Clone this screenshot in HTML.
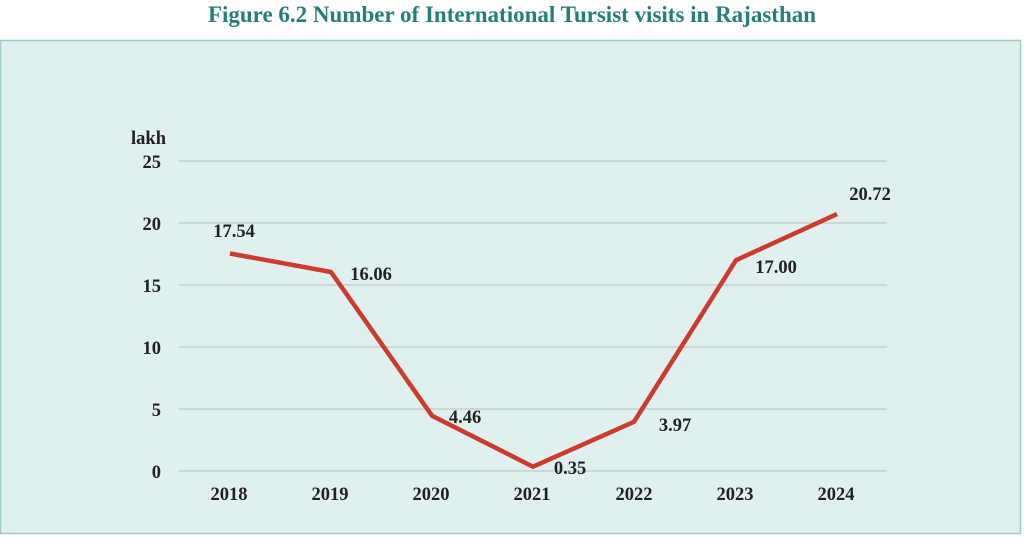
<!DOCTYPE html>
<html><head><style>
body{margin:0;width:1024px;height:537px;background:#fff;overflow:hidden}
</style></head><body>
<svg width="1024" height="537" xmlns="http://www.w3.org/2000/svg" font-family="Liberation Serif, serif" font-weight="bold">
<text x="512" y="22" text-anchor="middle" font-size="23" fill="#237f7a">Figure 6.2 Number of International Tursist visits in Rajasthan</text>
<rect x="0.5" y="40.5" width="1020" height="493" fill="#dff1ef" stroke="#9dcdc6" stroke-width="1.5"/>
<g stroke="#cfd6d6" stroke-width="2">
<line x1="179" x2="887" y1="161" y2="161"/><line x1="179" x2="887" y1="223" y2="223"/>
<line x1="179" x2="887" y1="285" y2="285"/><line x1="179" x2="887" y1="347" y2="347"/>
<line x1="179" x2="887" y1="409" y2="409"/><line x1="179" x2="887" y1="471" y2="471"/>
</g>
<g font-size="18.5" fill="#222" text-anchor="end">
<text x="166" y="144">lakh</text>
<text x="161" y="168">25</text><text x="161" y="230">20</text><text x="161" y="292">15</text>
<text x="161" y="354">10</text><text x="161" y="416">5</text><text x="161" y="478">0</text>
</g>
<g font-size="18.5" fill="#222" text-anchor="middle">
<text x="229" y="500">2018</text><text x="330" y="500">2019</text><text x="431" y="500">2020</text>
<text x="532" y="500">2021</text><text x="634" y="500">2022</text><text x="735" y="500">2023</text><text x="836" y="500">2024</text>
</g>
<polyline fill="none" stroke="#d0392b" stroke-width="4.5" stroke-linejoin="round" points="230,253.5 331,272 432,415.7 533,466.7 634,421.8 736,260.2 837,214.1"/>
<g font-size="18.5" fill="#222" text-anchor="middle">
<text x="234" y="237">17.54</text><text x="371" y="280">16.06</text><text x="465" y="423">4.46</text>
<text x="570" y="474">0.35</text><text x="675" y="431">3.97</text><text x="776" y="273">17.00</text>
<text x="870" y="200">20.72</text>
</g>
</svg>
</body></html>
